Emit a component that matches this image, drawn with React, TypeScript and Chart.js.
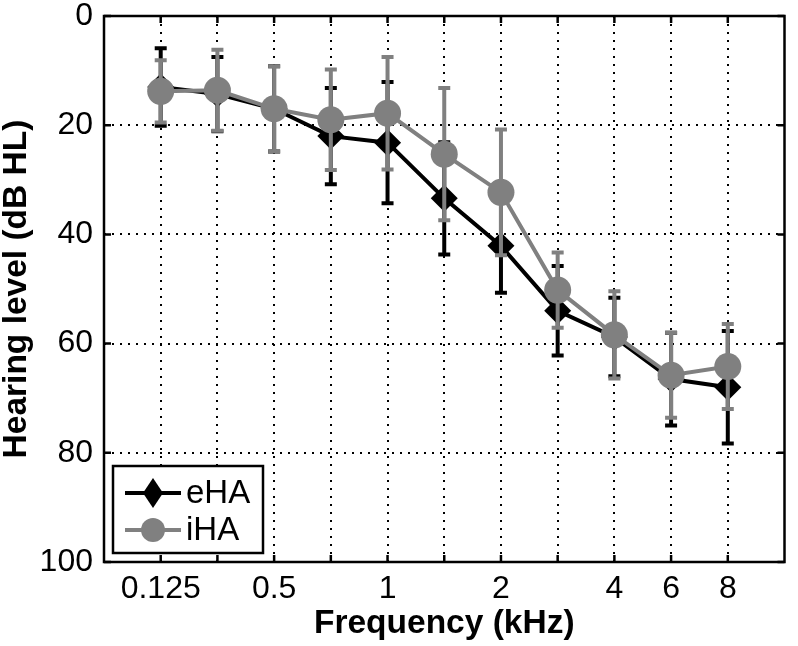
import React, { useEffect, useRef } from 'react';
import { Chart, registerables } from 'chart.js';

Chart.register(...registerables);

// ---- data ----
const frequencies = ['0.125', '0.25', '0.5', '0.75', '1', '1.5', '2', '3', '4', '6', '8'];
const tickLabels = ['0.125', '', '0.5', '', '1', '', '2', '', '4', '6', '8'];
const yTicks = [0, 20, 40, 60, 80, 100];
const seriesNames = ['eHA', 'iHA'];
const eHAMean = [13, 14.3, 17, 22, 23.2, 33.4, 42.1, 54, 58.8, 66.5, 68];
const eHASD = [7.1, 6.8, 7.8, 8.8, 11.1, 10.3, 8.6, 8.2, 7.2, 8.5, 10.3];
const iHAMean = [13.8, 13.6, 17, 19, 17.8, 25.3, 32.3, 50.2, 58.4, 65.8, 64.2];
const iHASD = [5.7, 7.4, 7.8, 9.2, 10.3, 12.1, 11.5, 6.9, 8, 7.8, 7.8];

const FONT = "'Liberation Sans', Arial, Helvetica, sans-serif";
const BLACK = '#000000';
const GRAY = '#808080';

const errorBarPlugin = {
  id: 'errorBars',
  beforeDatasetDraw(chart: any, args: any) {
    const ds = chart.data.datasets[args.index] as any;
    const sd: number[] = ds.errors;
    if (!sd) return;
    const yScale = chart.scales.y;
    const ctx = chart.ctx as CanvasRenderingContext2D;
    ctx.save();
    ctx.strokeStyle = ds.borderColor;
    ctx.lineWidth = 4;
    ctx.lineCap = 'butt';
    args.meta.data.forEach((pt: any, i: number) => {
      const v = ds.data[i].y;
      const x = pt.x;
      const yTop = yScale.getPixelForValue(v - sd[i]);
      const yBot = yScale.getPixelForValue(v + sd[i]);
      ctx.beginPath();
      ctx.moveTo(x, yTop);
      ctx.lineTo(x, yBot);
      ctx.moveTo(x - 6, yTop);
      ctx.lineTo(x + 6, yTop);
      ctx.moveTo(x - 6, yBot);
      ctx.lineTo(x + 6, yBot);
      ctx.stroke();
    });
    ctx.restore();
  },
};

const framePlugin = {
  id: 'frameAndLegend',
  afterDraw(chart: any) {
    const ctx = chart.ctx as CanvasRenderingContext2D;
    const a = chart.chartArea;
    const sx = chart.scales.x;
    const sy = chart.scales.y;
    ctx.save();
    ctx.strokeStyle = BLACK;
    ctx.lineWidth = 2.5;
    const tl = 7;
    ctx.beginPath();
    sx.ticks.forEach((t: any) => {
      const px = sx.getPixelForValue(t.value);
      ctx.moveTo(px, a.bottom);
      ctx.lineTo(px, a.bottom - tl);
      ctx.moveTo(px, a.top);
      ctx.lineTo(px, a.top + tl);
    });
    sy.ticks.forEach((t: any) => {
      const py = sy.getPixelForValue(t.value);
      ctx.moveTo(a.left, py);
      ctx.lineTo(a.left + tl, py);
      ctx.moveTo(a.right, py);
      ctx.lineTo(a.right - tl, py);
    });
    ctx.stroke();
    ctx.strokeRect(a.left, a.top, a.right - a.left, a.bottom - a.top);

    // legend
    const lw = 150;
    const lh = 87;
    const lx = a.left + 9;
    const ly = a.bottom - 9 - lh;
    ctx.fillStyle = '#ffffff';
    ctx.fillRect(lx, ly, lw, lh);
    ctx.lineWidth = 2.5;
    ctx.strokeStyle = BLACK;
    ctx.strokeRect(lx, ly, lw, lh);
    const rowsY = [ly + 27, ly + 64];
    chart.data.datasets.forEach((ds: any, i: number) => {
      const y = rowsY[i];
      const color = ds.borderColor;
      ctx.strokeStyle = color;
      ctx.lineWidth = 4;
      ctx.beginPath();
      ctx.moveTo(lx + 12, y);
      ctx.lineTo(lx + 68, y);
      ctx.stroke();
      ctx.fillStyle = color;
      const mx = lx + 40;
      ctx.beginPath();
      if (ds.pointStyle === 'rectRot') {
        ctx.moveTo(mx, y - 15);
        ctx.lineTo(mx + 10, y);
        ctx.lineTo(mx, y + 15);
        ctx.lineTo(mx - 10, y);
        ctx.closePath();
      } else {
        ctx.arc(mx, y, 12, 0, Math.PI * 2);
      }
      ctx.fill();
      ctx.fillStyle = BLACK;
      ctx.font = `33px ${FONT}`;
      ctx.textAlign = 'left';
      ctx.textBaseline = 'middle';
      ctx.fillText(ds.label, lx + 73, y + 1);
    });
    ctx.restore();
  },
};

export default function App() {
  const canvasRef = useRef<HTMLCanvasElement | null>(null);

  useEffect(() => {
    if (!canvasRef.current) return;
    const chart = new Chart(canvasRef.current, {
      type: 'line',
      data: {
        datasets: [
          {
            label: seriesNames[0],
            data: eHAMean.map((v, i) => ({ x: i + 1, y: v })),
            errors: eHASD,
            borderColor: BLACK,
            backgroundColor: BLACK,
            pointBackgroundColor: BLACK,
            pointStyle: 'rectRot',
            pointRadius: 13.5,
            pointBorderWidth: 0,
            borderWidth: 4,
            tension: 0,
            fill: false,
            order: 2,
          } as any,
          {
            label: seriesNames[1],
            data: iHAMean.map((v, i) => ({ x: i + 1, y: v })),
            errors: iHASD,
            borderColor: GRAY,
            backgroundColor: GRAY,
            pointBackgroundColor: GRAY,
            pointStyle: 'circle',
            pointRadius: 13.5,
            pointBorderWidth: 0,
            borderWidth: 4,
            tension: 0,
            fill: false,
            order: 1,
          } as any,
        ],
      },
      options: {
        animation: false,
        responsive: false,
        devicePixelRatio: 1,
        layout: { padding: { left: 0, right: 2, top: 16, bottom: 0 } },
        plugins: {
          legend: { display: false },
          tooltip: { enabled: false },
        },
        scales: {
          x: {
            type: 'linear',
            min: 0,
            max: frequencies.length + 1,
            afterBuildTicks: (scale: any) => {
              scale.ticks = frequencies.map((_, i) => ({ value: i + 1 }));
            },
            afterFit: (scale: any) => {
              scale.height = 84;
              scale.paddingLeft = 0;
              scale.paddingRight = 0;
            },
            ticks: {
              autoSkip: false,
              maxRotation: 0,
              minRotation: 0,
              padding: 8,
              color: BLACK,
              font: { family: FONT, size: 32 },
              callback: (_v: any, index: number) => tickLabels[index],
            },
            grid: { color: BLACK, lineWidth: 2, drawTicks: false },
            border: { display: false, dash: [2, 6] },
            title: {
              display: true,
              text: 'Frequency (kHz)',
              color: BLACK,
              font: { family: FONT, size: 33.5, weight: 'bold', lineHeight: 1 },
              padding: { top: 0, bottom: 5 },
            },
          },
          y: {
            type: 'linear',
            reverse: true,
            min: 0,
            max: 100,
            afterBuildTicks: (scale: any) => {
              scale.ticks = yTicks.map((v) => ({ value: v }));
            },
            afterFit: (scale: any) => {
              scale.width = 104;
              scale.paddingTop = 0;
              scale.paddingBottom = 0;
            },
            ticks: {
              padding: 11,
              color: BLACK,
              font: { family: FONT, size: 32 },
              callback: (v: any) => String(v),
            },
            grid: { color: BLACK, lineWidth: 2, drawTicks: false },
            border: { display: false, dash: [2, 6] },
            title: {
              display: true,
              text: 'Hearing level (dB HL)',
              color: BLACK,
              font: { family: FONT, size: 33.5, weight: 'bold', lineHeight: 1 },
              padding: { top: 0, bottom: 0 },
            },
          },
        },
      } as any,
      plugins: [errorBarPlugin, framePlugin],
    });
    return () => chart.destroy();
  }, []);

  return (
    <div style={{ position: 'fixed', left: 0, top: 0, width: 798, height: 646, background: '#fff' }}>
      <canvas ref={canvasRef} width={798} height={646} style={{ width: 798, height: 646, display: 'block' }} />
    </div>
  );
}
